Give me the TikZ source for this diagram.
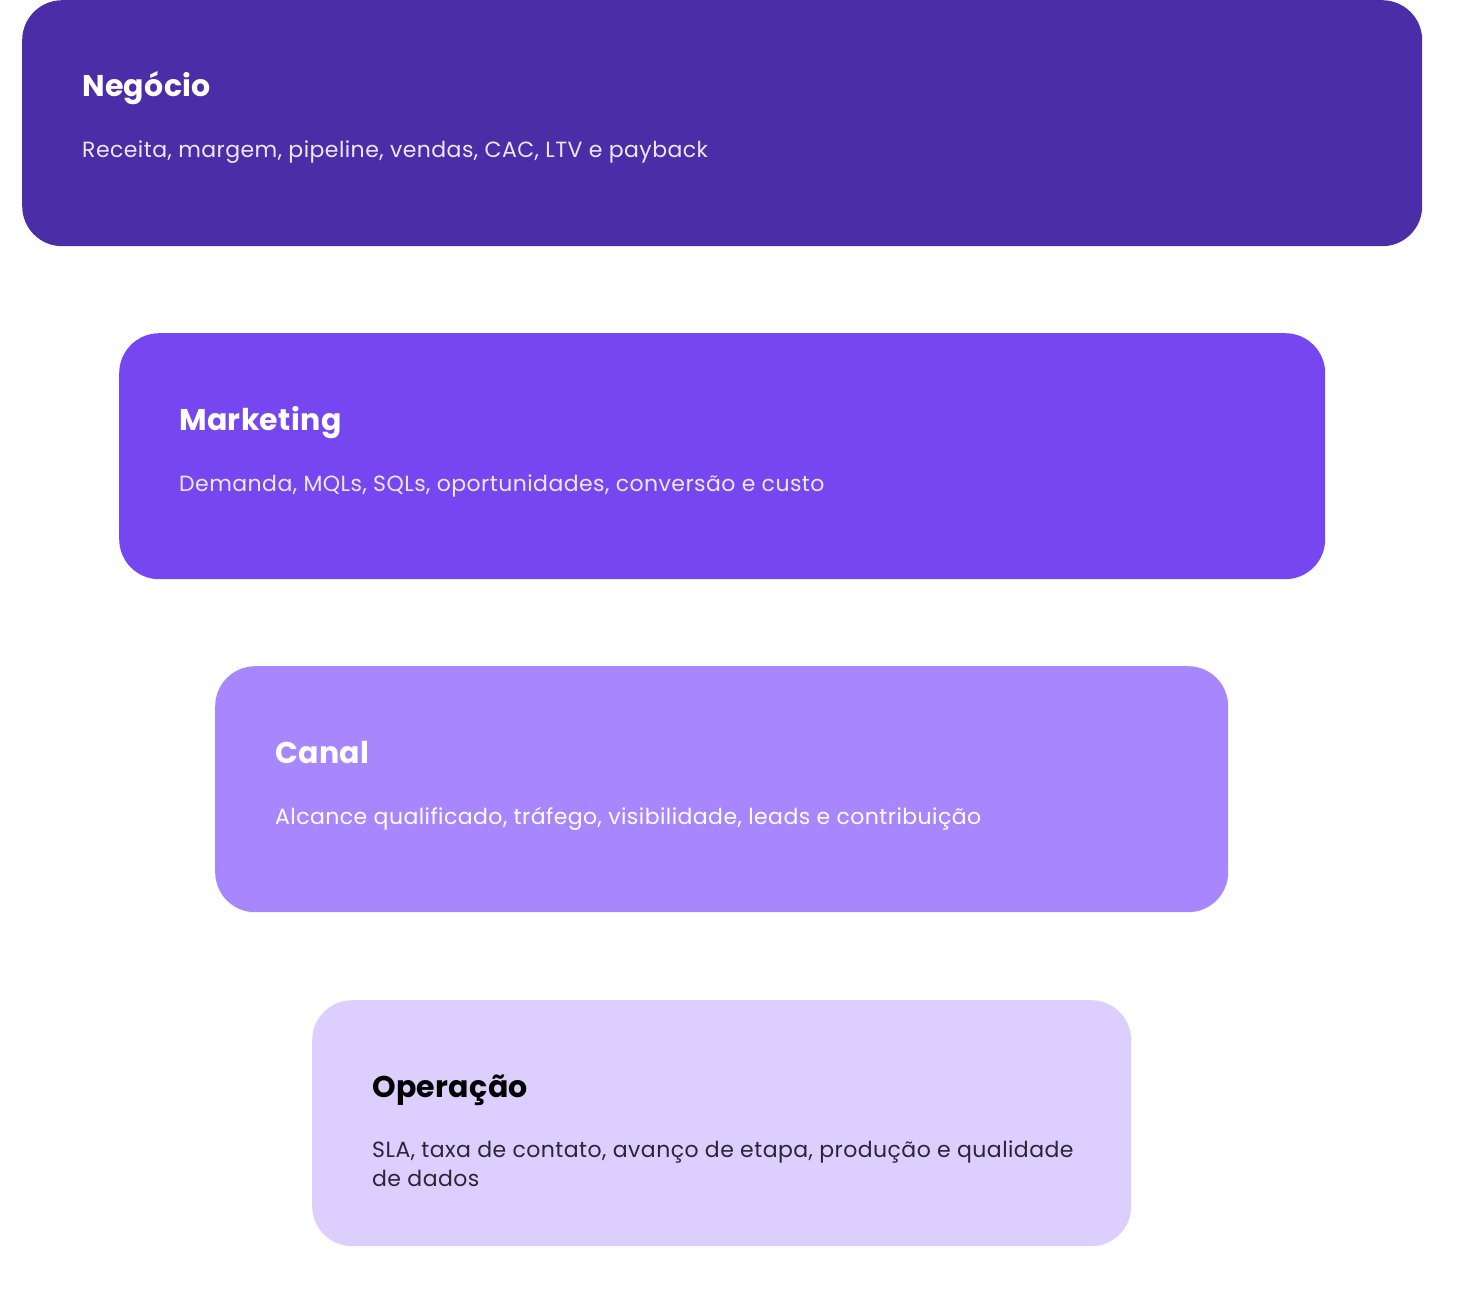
\documentclass[tikz,border=0pt]{standalone}
\usepackage{fontspec}
\setmainfont{Poppins}
\newfontfamily\ttlfont[LetterSpace=1.2]{Poppins}
\newfontfamily\subfont[LetterSpace=2]{Poppins}
\definecolor{cneg}{HTML}{4A2DA7}
\definecolor{cmkt}{HTML}{7647F1}
\definecolor{ccan}{HTML}{A886FD}
\definecolor{cope}{HTML}{DCCEFE}
\definecolor{subw}{HTML}{ECE8F8}
\definecolor{subd}{HTML}{2A2633}
\begin{document}
\begin{tikzpicture}[x=1pt,y=-1pt,
  card/.style={rectangle,rounded corners=40pt,anchor=north west,inner sep=0pt,minimum height=246pt},
  ttl/.style={anchor=base west,inner sep=0pt,font=\ttlfont\fontsize{30}{36}\selectfont\bfseries},
  sub/.style={anchor=base west,inner sep=0pt,font=\subfont\fontsize{22}{29}\selectfont,align=left}]
\useasboundingbox (0,0) rectangle (1460,1300);
\node[card,fill=cneg,minimum width=1400pt] (b1) at (22,0) {};
\node[card,fill=cmkt,minimum width=1206pt] (b2) at (119,333) {};
\node[card,fill=ccan,minimum width=1013pt] (b3) at (215,666) {};
\node[card,fill=cope,minimum width=819pt] (b4) at (312,1000) {};
\node[ttl,text=white] (t1) at (82,97) {Negócio};
\node[sub,text=subw] (s1) at (82,158) {Receita, margem, pipeline, vendas, CAC, LTV e payback};
\node[ttl,text=white] (t2) at (179,430) {Marketing};
\node[sub,text=subw] (s2) at (179,491) {Demanda, MQLs, SQLs, oportunidades, conversão e custo};
\node[ttl,text=white] (t3) at (275,763) {Canal};
\node[sub,text=white] (s3) at (275,824) {Alcance qualificado, tráfego, visibilidade, leads e contribuição};
\node[ttl,text=black] (t4) at (372,1097) {Operação};
\node[sub,text=subd,anchor=north west] (s4) at (372,1141) {SLA, taxa de contato, avanço de etapa, produção e qualidade\\de dados};
\end{tikzpicture}
\end{document}
